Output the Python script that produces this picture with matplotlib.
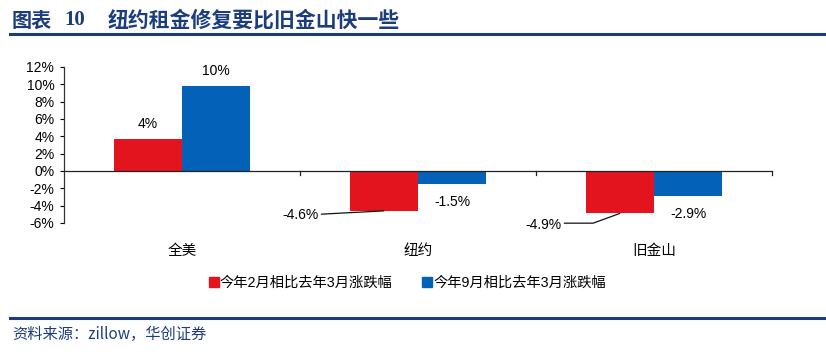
import numpy as np
import matplotlib
matplotlib.use("Agg")
import matplotlib.pyplot as plt
from matplotlib.lines import Line2D

plt.rcParams['font.family'] = ['Liberation Sans', 'Noto Sans CJK SC']
plt.rcParams['axes.unicode_minus'] = False

# Data
categories = ["全美", "纽约", "旧金山"]
feb_vs_mar = [3.7, -4.6, -4.9]
sep_vs_mar = [9.8, -1.5, -2.9]
feb_labels = ["4%", "-4.6%", "-4.9%"]
sep_labels = ["10%", "-1.5%", "-2.9%"]
series_names = ["今年2月相比去年3月涨跌幅", "今年9月相比去年3月涨跌幅"]
yticks = [-6, -4, -2, 0, 2, 4, 6, 8, 10, 12]

RED = "#E3141E"
BLUE = "#0461B8"
NAVY = "#1C3D7D"

fig = plt.figure(figsize=(8.26, 3.56), dpi=100)
ax = fig.add_axes([0.0775, 0.3736, 0.8571, 0.4382])

x = np.arange(len(categories))
w = 0.29
ax.bar(x - w / 2, feb_vs_mar, w, color=RED, zorder=2)
ax.bar(x + w / 2, sep_vs_mar, w, color=BLUE, zorder=2)

ax.set_xlim(-0.5, len(categories) - 0.5)
ax.set_ylim(-6, 12)
ax.set_yticks(yticks)
ax.set_yticklabels([f"{t}%" for t in yticks], fontsize=10)
ax.tick_params(axis='y', length=3, width=0.8, pad=4, direction='out')

for s in ["top", "right", "bottom"]:
    ax.spines[s].set_visible(False)
ax.spines["left"].set_color("#333333")
ax.spines["left"].set_linewidth(0.9)
ax.axhline(0, color="#222222", lw=0.9, zorder=3)
ax.set_xticks([])

# category ticks on zero line
bounds = np.arange(len(categories) + 1) - 0.5
for b in bounds[1:]:
    ax.plot([b, b], [0, -0.45], color="#222222", lw=0.9, zorder=3, clip_on=False)

# category labels
for xi, c in zip(x, categories):
    ax.annotate(c, xy=(xi, -6), xytext=(0, -20), textcoords="offset points",
                ha="center", va="center", fontsize=10.5)

# value labels
lab_fs = 10
for i, (v, t) in enumerate(zip(feb_vs_mar, feb_labels)):
    xb = x[i] - w / 2
    if v >= 0:
        ax.annotate(t, xy=(xb, v), xytext=(0, 10.5), textcoords="offset points",
                    ha="center", va="center", fontsize=lab_fs)
for i, (v, t) in enumerate(zip(sep_vs_mar, sep_labels)):
    xb = x[i] + w / 2
    off = 11 if v >= 0 else -13
    ax.annotate(t, xy=(xb, v), xytext=(0, off), textcoords="offset points",
                ha="center", va="center", fontsize=lab_fs)

# negative red labels with leader lines
ax.annotate(feb_labels[1], xy=(x[1] - w / 2, feb_vs_mar[1]), xytext=(-60, -3),
            textcoords="offset points", ha="center", va="center", fontsize=lab_fs,
            arrowprops=dict(arrowstyle="-", color="#111111", lw=0.9,
                            shrinkA=0, shrinkB=0, relpos=(1.0, 0.55)))
ax.annotate(feb_labels[2], xy=(x[2] - w / 2, feb_vs_mar[2]), xytext=(-55, -8),
            textcoords="offset points", ha="center", va="center", fontsize=lab_fs,
            arrowprops=dict(arrowstyle="-", color="#111111", lw=0.9,
                            shrinkA=0, shrinkB=0, relpos=(1.0, 0.6),
                            connectionstyle="angle,angleA=0,angleB=20,rad=0"))

# legend
handles = [Line2D([], [], marker="s", ls="", color=RED, markersize=7),
           Line2D([], [], marker="s", ls="", color=BLUE, markersize=7)]
fig.legend(handles, series_names, loc="center", bbox_to_anchor=(0.494, 1 - 283 / 356),
           ncol=2, frameon=False, fontsize=10.3, handlelength=0.5, handletextpad=0.15,
           columnspacing=2.2)

# title and rules
fig.text(12 / 826, 1 - 20 / 356, "图表", fontsize=14.5, fontweight="bold",
         color=NAVY, va="center", ha="left", family=['Noto Sans CJK SC'])
fig.text(64 / 826, 1 - 20 / 356, "10", fontsize=15, fontweight="bold",
         color=NAVY, va="center", ha="left", family=['Liberation Serif'])
fig.text(108 / 826, 1 - 20 / 356, "纽约租金修复要比旧金山快一些", fontsize=15,
         fontweight="bold", color=NAVY, va="center", ha="left",
         family=['Noto Sans CJK SC'])
fig.add_artist(Line2D([10 / 826, 1.0], [1 - 34 / 356] * 2, color=NAVY, lw=2.2))
fig.add_artist(Line2D([10 / 826, 1.0], [1 - 318 / 356] * 2, color=NAVY, lw=2.2))
fig.text(12 / 826, 1 - 334 / 356, "资料来源：zillow，华创证券", fontsize=11,
         color=NAVY, va="center", ha="left", style="italic",
         family=['Noto Sans CJK SC'])

fig.savefig("out.png", dpi=100)
